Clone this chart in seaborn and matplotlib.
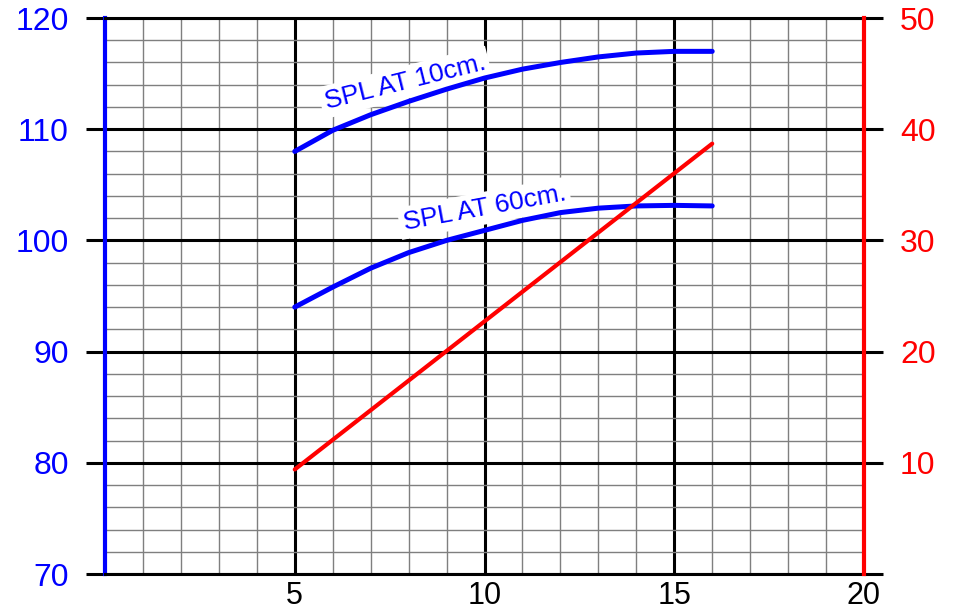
import matplotlib
matplotlib.use('Agg')
import matplotlib.pyplot as plt
import seaborn as sns
import pandas as pd
from matplotlib.ticker import MultipleLocator, FixedLocator

# ---- data ----
x_vals = [5, 6, 7, 8, 9, 10, 11, 12, 13, 14, 15, 16]
spl_10cm = [108.0, 109.9, 111.3, 112.5, 113.6, 114.6, 115.4, 116.0, 116.5, 116.85, 117.0, 117.0]
spl_60cm = [94.0, 95.8, 97.5, 98.9, 100.0, 100.9, 101.8, 102.5, 102.9, 103.1, 103.15, 103.1]
red_x = [5, 16]
red_y = [9.4, 38.7]

left_ticks = [70, 80, 90, 100, 110, 120]
right_ticks = [0, 10, 20, 30, 40, 50]
right_labels = ['', '10', '20', '30', '40', '50']
x_ticks = [5, 10, 15, 20]
x_labels = ['5', '10', '15', '20']

sns.set_style('white')
plt.rcParams['font.family'] = ['Liberation Sans', 'DejaVu Sans']

fig = plt.figure(figsize=(9.57, 6.12), dpi=100)
ax = fig.add_axes([105 / 957, 38 / 612, 759 / 957, 556 / 612])
ax.set_axisbelow(True)

df = pd.DataFrame({'x': x_vals, 'spl10': spl_10cm, 'spl60': spl_60cm})
sns.lineplot(data=df, x='x', y='spl10', ax=ax, color='#0000ff', lw=3.6)
sns.lineplot(data=df, x='x', y='spl60', ax=ax, color='#0000ff', lw=3.6)

ax.set_xlim(0, 20)
ax.set_ylim(70, 120)
ax.set_xlabel('')
ax.set_ylabel('')
ax.xaxis.set_major_locator(FixedLocator(x_ticks))
ax.set_xticklabels(x_labels)
ax.xaxis.set_minor_locator(MultipleLocator(1))
ax.yaxis.set_major_locator(FixedLocator(left_ticks))
ax.yaxis.set_minor_locator(MultipleLocator(2))
ax.grid(which='major', color='black', lw=2.2)
ax.grid(which='minor', color='#7f7f7f', lw=1.0)

ax.tick_params(axis='y', which='major', left=True, right=False, length=14, width=2.2,
               color='black', labelcolor='#0000ff', labelsize=23, pad=12)
ax.tick_params(axis='y', which='minor', length=0)
ax.tick_params(axis='x', which='both', bottom=False, length=0, labelsize=22, pad=5,
               labelcolor='black')

ax.spines['left'].set_color('#0000ff')
ax.spines['left'].set_linewidth(3)
ax.spines['right'].set_visible(False)
for s in ('top', 'bottom'):
    ax.spines[s].set_color('black')
    ax.spines[s].set_linewidth(2.2)

ax.text(7.9, 114.2, 'SPL AT 10cm.', rotation=14, color='#0000ff', fontsize=19,
        ha='center', va='center', rotation_mode='anchor', zorder=1.5,
        bbox=dict(fc='white', ec='none', pad=3))
ax.text(10.0, 102.9, 'SPL AT 60cm.', rotation=10.5, color='#0000ff', fontsize=19,
        ha='center', va='center', rotation_mode='anchor', zorder=1.5,
        bbox=dict(fc='white', ec='none', pad=3))

ax2 = ax.twinx()
sns.lineplot(x=red_x, y=red_y, ax=ax2, color='#ff0000', lw=3.0)
ax2.set_ylim(0, 50)
ax2.set_ylabel('')
ax2.set_yticks(right_ticks)
ax2.set_yticklabels(right_labels)
ax2.grid(False)
ax2.tick_params(axis='y', which='major', right=True, left=False, length=14, width=2.2,
                color='black', labelcolor='#ff0000', labelsize=23, pad=12)
for s in ('left', 'top', 'bottom'):
    ax2.spines[s].set_visible(False)
ax2.spines['right'].set_color('#ff0000')
ax2.spines['right'].set_linewidth(3)

fig.savefig('out.png', dpi=100)
